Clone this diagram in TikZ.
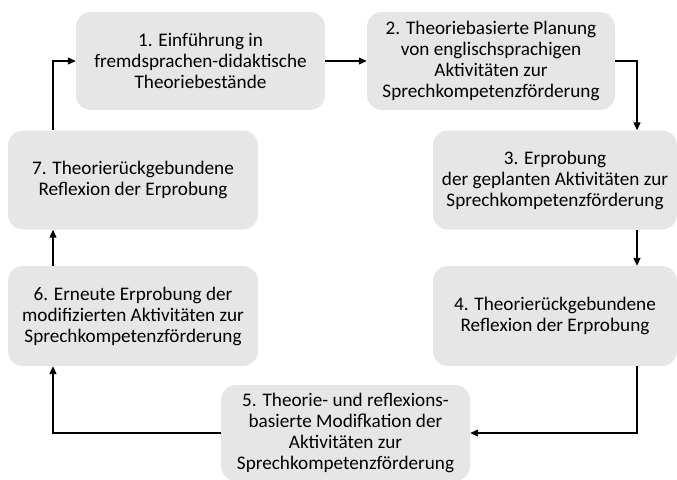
\documentclass[tikz,border=0pt]{standalone}
\usepackage{fontspec}
\setmainfont{Carlito}
\usetikzlibrary{positioning, arrows.meta}

\begin{document}
\begin{tikzpicture}[
        x=1pt, y=1pt,
        every node/.style={fill=boxgray, align=center, rounded corners=15pt, inner sep=0pt,
          font=\fontsize{19.2}{21}\selectfont, minimum width=249pt, minimum height=98pt},
        arrow/.style={-{Triangle[length=8pt, width=7pt]}, line width=1.3pt}
      ]
    \definecolor{boxgray}{RGB}{230,230,230}
    \useasboundingbox (0,0) rectangle (677,-479);

    \node (intro) at (200.5,-61) {1. Einführung in\\fremdsprachen-didaktische\\Theoriebestände};
    \node (planung) at (491,-61) [minimum width=248pt] {2. Theoriebasierte Planung\\von englischsprachigen\\Aktivitäten zur\\Sprechkompetenzförderung};
    \node (erprobung) at (555,-180) [minimum width=244pt, minimum height=99pt] {3. Erprobung\\der geplanten Aktivitäten zur\\Sprechkompetenzförderung};
    \node (reflexion) at (555,-316) [minimum width=244pt, minimum height=100pt] {4. Theorierückgebundene\\Reflexion der Erprobung};
    \node (modifikation) at (345.5,-433) [minimum height=96pt] {5. Theorie- und reflexions-\\basierte Modifkation der\\Aktivitäten zur\\Sprechkompetenzförderung};
    \node (erneut) at (133,-316) [minimum width=250pt, minimum height=100pt] {6. Erneute Erprobung der\\modifizierten Aktivitäten zur\\Sprechkompetenzförderung};
    \node (reflexion2) at (133,-180) [minimum width=250pt, minimum height=99pt] {7. Theorierückgebundene\\Reflexion der Erprobung};

    \draw[arrow] (intro) -- (planung);
    \draw[arrow] (planung.east) -| ([xshift=82pt]erprobung.north);
    \draw[arrow] ([xshift=82pt]erprobung.south) -- ([xshift=82pt]reflexion.north);
    \draw[arrow] ([xshift=82pt]reflexion.south) |- (modifikation.east);
    \draw[arrow] (modifikation.west) -| ([xshift=-80pt]erneut.south);
    \draw[arrow] ([xshift=-80pt]erneut.north) -- ([xshift=-80pt]reflexion2.south);
    \draw[arrow] ([xshift=-80pt]reflexion2.north) |- (intro.west);

    \end{tikzpicture}
\end{document}
